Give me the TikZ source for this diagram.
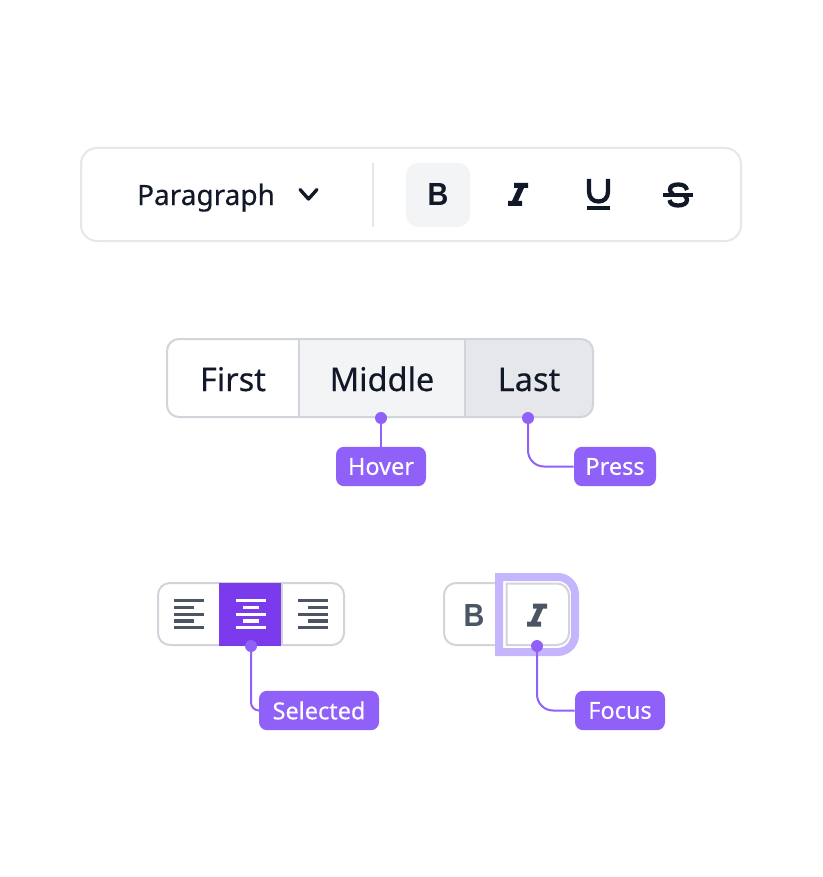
\documentclass[tikz,border=0pt]{standalone}
\usepackage{fontspec}
\setmainfont{Noto Sans}[RawFeature={embolden=0.35}]
\newfontfamily\iconbold{Liberation Sans Bold}[FakeStretch=0.9]
\definecolor{ink}{HTML}{111827}
\definecolor{slatei}{HTML}{4B5563}
\definecolor{edgea}{HTML}{E5E7EB}
\definecolor{edgeb}{HTML}{D1D5DB}
\definecolor{hov}{HTML}{F3F4F6}
\definecolor{prs}{HTML}{E5E7EB}
\definecolor{vio}{HTML}{8F61F8}
\definecolor{sel}{HTML}{7C3AED}
\definecolor{ring}{HTML}{C4B5FD}
\tikzset{
  px/.style={x=0.75pt,y=-0.75pt},
  tag/.style={fill=vio,text=white,rounded corners=6pt,inner sep=0pt,minimum height=29.5pt,font=\fontsize{17.6}{20}\selectfont},
  pin/.style={circle,fill=vio,inner sep=0pt,minimum size=9pt},
  wire/.style={draw=vio,line width=1.5pt,rounded corners=12pt},
  cap24/.style={text=ink,inner sep=0pt,font=\fontsize{24.4}{28}\selectfont},
  cap21/.style={text=ink,inner sep=0pt,font=\fontsize{21}{25}\selectfont},
  glyph/.style={inner sep=0pt,font=\iconbold\fontsize{24}{28}\selectfont},
  box/.style={line width=1.5pt,rounded corners=9pt},
  rows/.style={line width=2.5pt},
  ico/.style={draw=ink,line width=3.2pt},
}
\begin{document}
\begin{tikzpicture}[px]
\useasboundingbox (0,0) rectangle (822,877);
\fill[white] (0,0) rectangle (822,877);
% toolbar
\draw[edgea,line width=1.5pt,rounded corners=12pt] (81,148) rectangle (741,241);
\draw[edgea,line width=1.5pt] (373,163) -- (373,227);
\fill[hov,rounded corners=9pt] (406,163) rectangle (470,227);
\node[cap21,anchor=base] (para) at (206,205) {Paragraph};
\draw[ink,line width=2.5pt,line cap=round,line join=round] (300,189.5) -- (308.5,199) -- (317,189.5);
\node[glyph,text=ink,anchor=base] (boldA) at (438,206) {B};
% italic icon
\begin{scope}[shift={(518,194.5)}]
\fill[ink] (-4,-11.5) -- (10,-11.5) -- (10,-6.5) -- (6,-6.5) -- (0,6.5) -- (4,6.5) -- (4,11.5) -- (-10,11.5) -- (-10,6.5) -- (-6,6.5) -- (0,-6.5) -- (-4,-6.5) -- cycle;
\end{scope}
% underline icon
\draw[ico] (589,179) -- (589,191.5) .. controls (589,198) and (593,201.5) .. (598.5,201.5) .. controls (604,201.5) and (608,198) .. (608,191.5) -- (608,179);
\draw[ico] (587,208) -- (610,208);
% strike icon
\draw[ico] (663,195) -- (693,195);
\draw[ico] (687,190) .. controls (686,186) and (683,184.5) .. (678,184.5) .. controls (673,184.5) and (670,186.5) .. (670,189.5) .. controls (670,191.5) and (671,193) .. (673,194);
\draw[ico] (685,196) .. controls (686.5,197.5) and (687,199) .. (687,200) .. controls (687,203.5) and (683,205.5) .. (678,205.5) .. controls (673,205.5) and (670,203.5) .. (669.5,200);
% segmented
\fill[prs,rounded corners=9pt] (440,339) rectangle (593,417);
\fill[hov] (299,339) rectangle (465,417);
\draw[edgeb,box] (167,339) rectangle (593,417);
\draw[edgeb,line width=1.5pt] (299,339) -- (299,417) (465,339) -- (465,417);
\node[cap24,anchor=base] (first) at (233,391) {First};
\node[cap24,anchor=base] (middle) at (382,391) {Middle};
\node[cap24,anchor=base] (last) at (529,391) {Last};
\node[pin] (dotH) at (381,418) {};
\node[pin] (dotP) at (528,418) {};
\node[tag,minimum width=67.5pt] (hover) at (381,466.5) {Hover};
\node[tag,minimum width=61.5pt] (press) at (615,466.5) {Press};
\draw[wire] (dotH.center) -- (hover);
\draw[wire] (dotP.center) |- (press);
% align group
\draw[edgeb,box] (158,583) rectangle (344,645);
\draw[edgeb,line width=1.5pt] (282,583) -- (282,645);
\fill[sel] (219,582.5) rectangle (281,646);
\draw[slatei,rows] (174,600.7) -- (204,600.7) (174,607.7) -- (194,607.7) (174,614.3) -- (204,614.3) (174,621) -- (194,621) (174,627.7) -- (204,627.7);
\draw[white,rows] (236,600.7) -- (266,600.7) (243,607.7) -- (259,607.7) (236,614.3) -- (266,614.3) (243,621) -- (259,621) (236,627.7) -- (266,627.7);
\draw[slatei,rows] (298,600.7) -- (328,600.7) (308,607.7) -- (328,607.7) (298,614.3) -- (328,614.3) (308,621) -- (328,621) (298,627.7) -- (328,627.7);
\node[pin] (dotS) at (251,646) {};
\node[tag,minimum width=90pt] (selected) at (319,710.5) {Selected};
\draw[wire,rounded corners=6pt] (dotS.center) |- (selected);
% focus group
\draw[edgeb,box] (444,583) rectangle (520,645);
\fill[white] (495,573) rectangle (570,656);
\draw[ring,line width=6pt] (499,652) [sharp corners] -- (499,577) -- (540,577) [rounded corners=13pt] -- (575,577) -- (575,652) -- (540,652) [sharp corners] -- (499,652) -- cycle;
\draw[edgeb,line width=1.5pt] (506.5,645) [sharp corners] -- (506.5,583.5) -- (540,583.5) [rounded corners=9pt] -- (569,583.5) -- (569,645) -- (540,645) [sharp corners] -- (506.5,645) -- cycle;
\node[glyph,text=slatei,anchor=base] (boldB) at (474,626) {B};
\begin{scope}[shift={(537,615)}]
\fill[slatei] (-4,-11.5) -- (10,-11.5) -- (10,-6.5) -- (6,-6.5) -- (0,6.5) -- (4,6.5) -- (4,11.5) -- (-10,11.5) -- (-10,6.5) -- (-6,6.5) -- (0,-6.5) -- (-4,-6.5) -- cycle;
\end{scope}
\node[pin] (dotF) at (537,646) {};
\node[tag,minimum width=67.5pt] (focus) at (620,710.5) {Focus};
\draw[wire] (dotF.center) |- (focus);
\end{tikzpicture}
\end{document}
